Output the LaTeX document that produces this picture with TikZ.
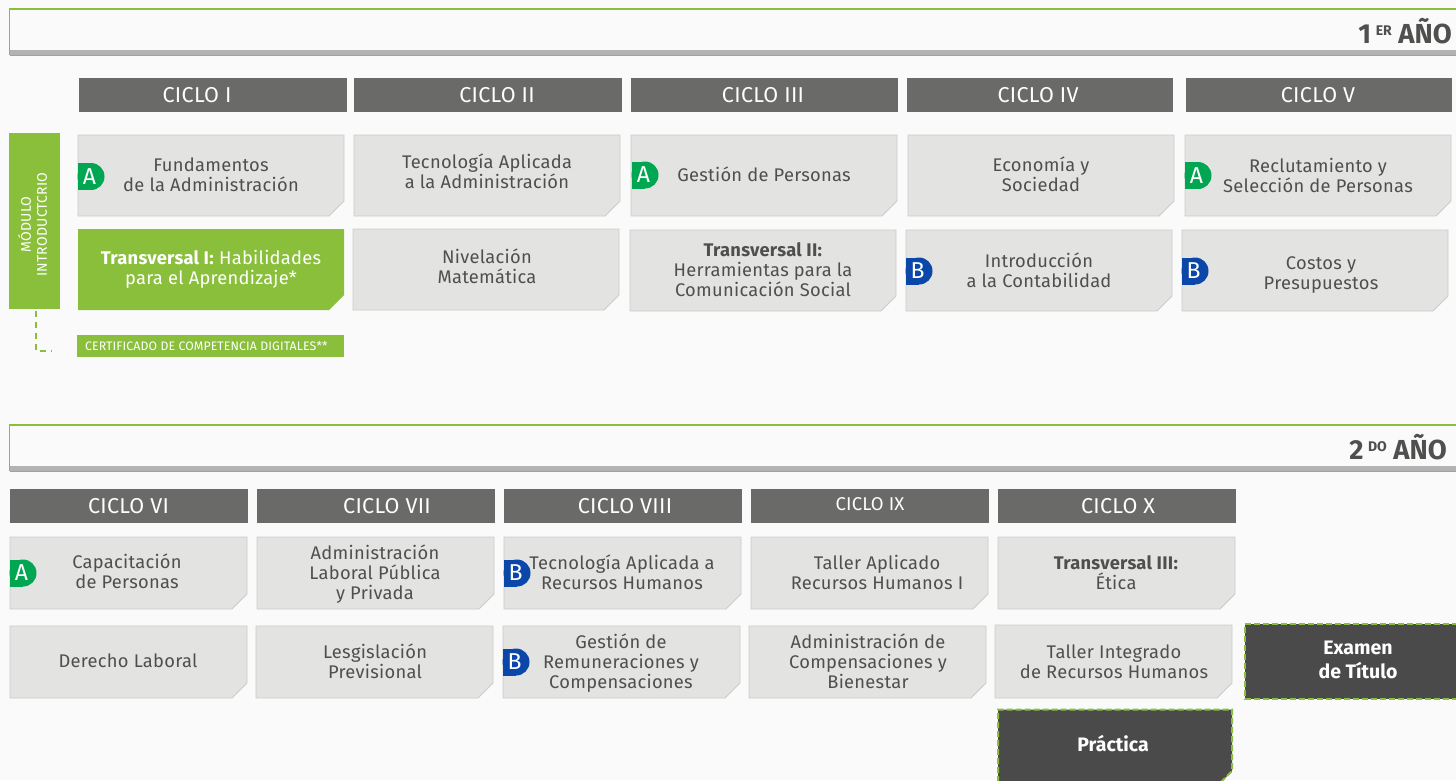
\documentclass[tikz,border=0pt]{standalone}
\usepackage{fontspec}
\setmainfont{Fira Sans}
\definecolor{bgc}{HTML}{FAFAFA}
\definecolor{boxc}{HTML}{E3E3E2}
\definecolor{boxl}{HTML}{CBCBCA}
\definecolor{txtc}{HTML}{4F4F4E}
\definecolor{greenc}{HTML}{8ABF3C}
\definecolor{headc}{HTML}{6A6A69}
\definecolor{darkc}{HTML}{4A4A4A}
\definecolor{stripc}{HTML}{B3B3B2}
\definecolor{badgeA}{HTML}{00A651}
\definecolor{badgeB}{HTML}{0A47A8}
\tikzset{
  x=1pt,y=-1pt,
  boxtext/.style={font=\fontsize{18.3}{20}\selectfont\addfontfeatures{LetterSpace=1.5},text=txtc,align=center,inner sep=0pt},
  whitetext/.style={boxtext,text=white},
  darktext/.style={font=\fontsize{19.5}{24}\selectfont\bfseries,text=white,align=center,inner sep=0pt},
  headtext/.style={font=\fontsize{21.5}{22}\selectfont\addfontfeatures{LetterSpace=1.5},text=white,inner sep=0pt},
  yeartext/.style={font=\fontsize{27.5}{28}\selectfont\bfseries,text=txtc,inner sep=0pt,anchor=east},
  badgetext/.style={font=\fontsize{23}{24}\selectfont,text=white,inner sep=0pt},
  graybox/.style={fill=boxc,draw=boxl,line width=0.9pt},
}
% chamfered box: name, x1,y1,x2,y2, text centre x,y, text
\newcommand{\cbox}[8]{%
  \draw[graybox] (#2,#3) -- (#4,#3) -- (#4,#5-15) -- (#4-15,#5) -- (#2,#5) -- cycle;
  \node[boxtext] (#1) at (#6,#7) {#8};}
% head: name, x1, x2, y1, text centre x, text
\newcommand{\chead}[6]{%
  \fill[headc] (#2,#4) rectangle (#3,#4+34);
  \node[headtext] (#1) at (#5,#4+17) {#6};}
\newcommand{\badge}[5]{%
  \fill[#4] (#2,#3-13.5) rectangle (#2+13,#3+13.5);
  \fill[#4] (#2+13,#3) circle[radius=13.5pt];
  \node[badgetext] (#1) at (#2+11.5,#3) {#5};}
\newcommand{\yearbar}[1]{%
  \draw[greenc,line width=1.4pt] (1456,#1) -- (9.5,#1) -- (9.5,#1+46);
  \draw[greenc,line width=0.8pt] (9.5,#1+46.4) -- (1456,#1+46.4);
  \fill[stripc] (10.2,#1+40.5) rectangle (1456,#1+46);}
\begin{document}
\begin{tikzpicture}
\useasboundingbox (0,0) rectangle (1456,780);
\fill[bgc] (0,0) rectangle (1456,780);

\yearbar{9}
\node[yeartext] (year1) at (1452,31) {1\,\raisebox{8pt}{\fontsize{14}{14}\selectfont ER} AÑO};
\yearbar{425}
\node[yeartext] (year2) at (1447,447) {2\,\raisebox{8pt}{\fontsize{14}{14}\selectfont DO} AÑO};

% heads, year 1
\chead{c1}{79}{347}{78}{197}{CICLO I}
\chead{c2}{354}{622}{78}{497}{CICLO II}
\chead{c3}{631}{898}{78}{763}{CICLO III}
\chead{c4}{907}{1173}{78}{1038}{CICLO IV}
\chead{c5}{1186}{1452}{78}{1318}{CICLO V}

% module
\fill[greenc] (9,133) rectangle (60,309);
\node[font=\fontsize{14}{16}\selectfont\addfontfeatures{LetterSpace=1.5},text=white,align=center,rotate=90,inner sep=0pt] (modulo) at (32.5,224.5) {MÓDULO\\INTRODUCTCRIO};

% row 1
\cbox{b1}{78}{135}{344}{216}{211}{175}{Fundamentos\\de la Administración}
\cbox{b2}{354}{135}{620}{216}{487}{171.5}{Tecnología Aplicada\\a la Administración}
\cbox{b3}{631}{135}{897}{216}{764}{174}{Gestión de Personas}
\cbox{b4}{908}{135}{1174}{216}{1041}{174.5}{Economía y\\Sociedad}
\cbox{b5}{1185}{135}{1451}{216}{1318}{175.5}{Reclutamiento y\\Selección de Personas}

% row 2
\fill[greenc] (78,229) -- (344,229) -- (344,295) -- (329,310) -- (78,310) -- cycle;
\node[whitetext] (t1) at (211,269.5) {\textbf{Transversal I:} Habilidades\\para el Aprendizaje*};
\cbox{b7}{353}{229}{619}{310}{487}{266}{Nivelación\\Matemática}
\cbox{b8}{630}{230}{896}{311}{763}{270}{\textbf{Transversal II:}\\Herramientas para la\\Comunicación Social}
\cbox{b9}{906}{230}{1172}{311}{1039}{270}{Introducción\\a la Contabilidad}
\cbox{b10}{1182}{230}{1448}{311}{1321}{275}{Costos y\\Presupuestos}

% certificate
\node[fill=greenc,minimum width=267pt,minimum height=22pt,inner sep=0pt,anchor=north west] (cert) at (77,335) {};
\node[anchor=west,inner sep=0pt,text=white,font=\fontsize{12.3}{13}\selectfont\addfontfeatures{LetterSpace=1}] (certtext) at (85,346) {CERTIFICADO DE COMPETENCIA DIGITALES**};
\coordinate (modfoot) at (36,311);
\coordinate (certend) at (52,351);
\draw[greenc,line width=1.3pt,dash pattern=on 6pt off 5pt] (modfoot) |- (certend);

% badges
\badge{a1}{78}{176.5}{badgeA}{A}
\badge{a2}{632}{175}{badgeA}{A}
\badge{a3}{1185}{175.5}{badgeA}{A}
\badge{bb1}{906}{271}{badgeB}{B}
\badge{bb2}{1182}{271}{badgeB}{B}

% heads, year 2
\chead{c6}{10}{248}{489}{128.5}{CICLO VI}
\chead{c7}{257}{495}{489}{387}{CICLO VII}
\chead{c8}{504}{742}{489}{625}{CICLO VIII}
\fill[headc] (751,489) rectangle (989,523);
\node[headtext,font=\fontsize{18.5}{20}\selectfont\addfontfeatures{LetterSpace=1}] (c9) at (870,504) {CICLO IX};
\chead{c10}{998}{1236}{489}{1118}{CICLO X}

% row 3
\cbox{d1}{10}{537}{247}{609}{127}{571}{Capacitación\\de Personas}
\cbox{d2}{257}{537}{494}{609}{375}{574}{Administración\\Laboral Pública\\y Privada}
\cbox{d3}{504}{537}{741}{609}{622}{572}{Tecnología Aplicada a\\Recursos Humanos}
\cbox{d4}{751}{537}{988}{609}{877}{572}{Taller Aplicado\\Recursos Humanos I}
\cbox{d5}{998}{537}{1235}{609}{1116}{573}{\textbf{Transversal III:}\\Ética}

% row 4
\cbox{e1}{10}{626}{247}{698}{128}{661}{Derecho Laboral}
\cbox{e2}{256}{626}{493}{698}{375}{661}{Lesgislación\\Previsional}
\cbox{e3}{503}{626}{740}{698}{621}{663}{Gestión de\\Remuneraciones y\\Compensaciones}
\cbox{e4}{749}{626}{986}{698}{868}{661}{Administración de\\Compensaciones y\\Bienestar}
\cbox{e5}{995}{625}{1232}{698}{1114}{662}{Taller Integrado\\de Recursos Humanos}

\badge{a4}{10}{573}{badgeA}{A}
\badge{bb3}{504}{573}{badgeB}{B}
\badge{bb4}{503}{662}{badgeB}{B}

% dark boxes
\draw[fill=darkc,draw=greenc,line width=2pt,dash pattern=on 6pt off 3pt] (1458,624) -- (1245,624) -- (1245,699) -- (1458,699);
\node[darktext] (examen) at (1358,660) {Examen\\de Título};
\draw[fill=darkc,draw=greenc,line width=2pt,dash pattern=on 6pt off 3pt] (998,782) -- (998,709.5) -- (1232,709.5) -- (1232,771) -- (1221,782);
\node[darktext] (practica) at (1113,744) {Práctica};
\end{tikzpicture}
\end{document}
